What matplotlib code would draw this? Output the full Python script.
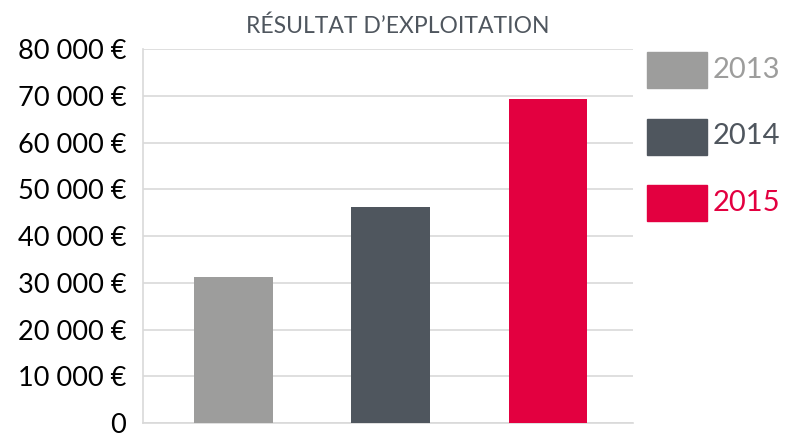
import matplotlib
matplotlib.use("Agg")
import matplotlib.pyplot as plt
from matplotlib.patches import Rectangle
from matplotlib.ticker import FuncFormatter

years = ["2013", "2014", "2015"]
values = [31200, 46200, 69300]
colors = ["#9d9d9c", "#4f565e", "#e30040"]
yticks = [0, 10000, 20000, 30000, 40000, 50000, 60000, 70000, 80000]
title = "RÉSULTAT D\u2019EXPLOITATION"

plt.rcParams['font.family'] = ['Lato', 'DejaVu Sans']

fig = plt.figure(figsize=(7.87, 4.34), dpi=100)
ax = fig.add_axes([0.1817, 0.0253, 0.6226, 0.8618])

x = list(range(len(years)))
ax.bar(x, values, width=0.5, color=colors, zorder=3)

ax.set_ylim(0, 80000)
ax.set_xlim(-0.575, 2.54)
ax.set_yticks(yticks)


def euro(v, pos):
    if v == 0:
        return "0"
    return "{:,.0f} €".format(v).replace(",", " ")


ax.yaxis.set_major_formatter(FuncFormatter(euro))
ax.tick_params(axis='y', length=0, pad=12, labelsize=19.5, labelcolor='black')
ax.set_xticks([])
ax.grid(axis='y', color='#d9d9d9', linewidth=1.2, zorder=0)
for s in ['top', 'right']:
    ax.spines[s].set_visible(False)
for s in ['left', 'bottom']:
    ax.spines[s].set_color('#d9d9d9')
    ax.spines[s].set_linewidth(1.2)

fig.text(0.505, 0.94, title, ha='center', va='center', fontsize=16.5,
         color='#4f565e')

# legende a droite
for i, (yr, c) in enumerate(zip(years, colors)):
    top = 52 + i * 66.5
    fig.add_artist(Rectangle((647 / 787, 1 - (top + 36) / 434), 60 / 787, 36 / 434,
                             transform=fig.transFigure, color=c))
    fig.text(713 / 787, 1 - (top + 18) / 434, yr, ha='left', va='center',
             fontsize=21, color=c)

fig.savefig("out.png", dpi=100)
